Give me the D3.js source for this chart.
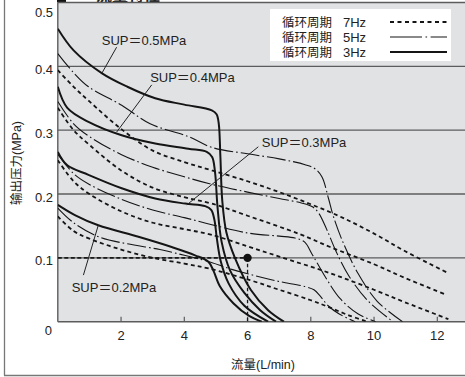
<!DOCTYPE html>
<html>
<head>
<meta charset="utf-8">
<script src="https://cdn.jsdelivr.net/npm/d3@7"></script>
<style>
  body { margin: 0; background: #fff; }
  svg { display: block; }
  text { font-family: "Liberation Sans", Arial, "Noto Sans CJK SC", sans-serif; fill: #222; }
</style>
</head>
<body>
<div id="chart"></div>
<script>
// ticks
const xTicks = [2, 4, 6, 8, 10, 12];
const yTicks = [0.1, 0.2, 0.3, 0.4, 0.5];
const yTickLabels = ["0.1", "0.2", "0.3", "0.4", "0.5"];

// legend
const freqs = ["7Hz", "5Hz", "3Hz"];
const freqLabel = "循环周期";

// curves: [flow L/min, output pressure MPa]
const sup02_3hz = [[0,0.183],[0.54,0.167],[1.28,0.151],[2.55,0.133],[3.6,0.117],[4.34,0.104],[4.76,0.094],[4.92,0.08],[5.13,0.055],[5.55,0.029],[6.05,0.009],[6.45,0]];
const sup03_3hz = [[0,0.266],[0.3,0.245],[0.97,0.23],[2.02,0.209],[3.08,0.193],[4.03,0.185],[4.66,0.181],[4.85,0.175],[4.95,0.16],[5.03,0.13],[5.15,0.095],[5.4,0.06],[5.9,0.025],[6.65,0]];
const sup04_3hz = [[0,0.368],[0.3,0.335],[0.97,0.313],[2.02,0.292],[3.08,0.279],[4.13,0.271],[4.71,0.266],[4.88,0.258],[4.97,0.235],[5.05,0.18],[5.18,0.125],[5.45,0.08],[5.9,0.045],[6.4,0.018],[6.9,0]];
const sup05_3hz = [[0,0.459],[0.5,0.425],[1.4,0.389],[2.2,0.368],[3.08,0.35],[4,0.34],[4.87,0.331],[5.02,0.325],[5.09,0.31],[5.14,0.26],[5.2,0.19],[5.33,0.14],[5.6,0.1],[6.1,0.05],[6.65,0.018],[7.15,0]];

const sup02_5hz = [[0,0.178],[0.5,0.155],[1.34,0.132],[2.2,0.122],[3.23,0.113],[4,0.104],[4.71,0.095],[5.5,0.082],[6.24,0.072],[7,0.063],[7.82,0.055],[8.1,0.05],[8.3,0.04],[8.55,0.025],[8.9,0.012],[9.4,0]];
const sup03_5hz = [[0,0.262],[0.5,0.232],[1,0.215],[2,0.192],[3,0.175],[4,0.163],[4.87,0.152],[6,0.139],[7,0.134],[7.5,0.131],[7.8,0.125],[8.05,0.105],[8.46,0.07],[8.93,0.036],[9.5,0.012],[10.05,0]];
const sup04_5hz = [[0,0.345],[0.5,0.31],[1,0.29],[2,0.262],[3,0.242],[4,0.227],[4.8,0.216],[6,0.203],[7,0.193],[7.7,0.186],[8.05,0.18],[8.25,0.17],[8.5,0.145],[8.8,0.11],[9.2,0.072],[9.8,0.033],[10.6,0]];
const sup05_5hz = [[0,0.42],[0.5,0.39],[0.97,0.368],[2.02,0.339],[2.92,0.31],[4.13,0.29],[4.87,0.273],[6,0.263],[7,0.255],[7.82,0.246],[8.12,0.24],[8.35,0.227],[8.56,0.193],[8.72,0.164],[9.03,0.123],[9.5,0.075],[10.1,0.032],[10.9,0]];

const sup02_7hz = [[0,0.165],[0.5,0.142],[1,0.13],[2,0.113],[3,0.1],[4,0.091],[4.8,0.083],[6.08,0.065],[7,0.05],[7.98,0.034],[8.61,0.022],[9.2,0.01],[9.8,0]];
const sup03_7hz = [[0,0.253],[0.5,0.22],[1,0.2],[2,0.173],[3,0.155],[4,0.145],[4.87,0.136],[6,0.118],[7,0.102],[8.61,0.076],[10,0.05],[11,0.03],[12.35,0.004]];
const sup04_7hz = [[0,0.335],[0.5,0.3],[1,0.277],[2,0.237],[3,0.21],[4,0.195],[4.87,0.185],[6,0.166],[7.66,0.137],[8.61,0.117],[10,0.09],[11,0.068],[12.3,0.042]];
const sup05_7hz = [[0,0.394],[0.5,0.368],[1,0.345],[2,0.302],[3,0.268],[4,0.25],[4.87,0.237],[6,0.22],[7,0.203],[8,0.184],[9,0.163],[10,0.138],[11,0.11],[12.35,0.076]];

// SUP annotations: label text, text anchor point, leader start, leader end (data units)
const supLabels = ["SUP＝0.5MPa", "SUP＝0.4MPa", "SUP＝0.3MPa", "SUP＝0.2MPa"];
const supTextAt = [[1.39, 0.433], [2.92, 0.376], [6.45, 0.274], [0.44, 0.047]];
const supLeaderFrom = [[1.86, 0.43], [2.97, 0.371], [6.34, 0.274], [0.81, 0.073]];
const supLeaderTo = [[1.39, 0.389], [1.86, 0.297], [4.08, 0.183], [1.28, 0.151]];

// rated point
const ratedPoint = [6, 0.1];

const W = 465, H = 377;
const svg = d3.select("#chart").append("svg").attr("width", W).attr("height", H);

const x = d3.scaleLinear().domain([0, 12]).range([57.8, 437.3]);
const y = d3.scaleLinear().domain([0, 0.5]).range([321.7, 2.5]);
const plotL = x(0), plotR = W, plotT = y(0.5), plotB = y(0);
const gridColor = "#5c5c5c";

// outer frame
svg.append("line").attr("x1", 4.5).attr("x2", 4.5).attr("y1", 0).attr("y2", 375.5)
  .attr("stroke", "#777").attr("stroke-width", 1.3);
svg.append("line").attr("x1", 4).attr("x2", W).attr("y1", 375.5).attr("y2", 375.5)
  .attr("stroke", "#777").attr("stroke-width", 1.3);

// clipped title (cut by the top edge, as in the source)
svg.append("rect").attr("x", 57).attr("y", -10).attr("width", 9).attr("height", 12.5).attr("fill", "#111");
svg.append("text").attr("x", 96).attr("y", 1).attr("font-size", 16).attr("font-weight", "bold")
  .text("流量特性");

// plot background
svg.append("rect").attr("x", plotL).attr("y", plotT).attr("width", plotR - plotL).attr("height", plotB - plotT)
  .attr("fill", "#e1e2e4");

svg.append("defs").append("clipPath").attr("id", "plotClip")
  .append("rect").attr("x", plotL).attr("y", plotT).attr("width", plotR - plotL).attr("height", plotB - plotT);

// grid lines
svg.append("g").selectAll("line").data(yTicks).join("line")
  .attr("x1", plotL).attr("x2", plotR)
  .attr("y1", d => y(d)).attr("y2", d => y(d))
  .attr("stroke", gridColor).attr("stroke-width", 1.3);

// axes
svg.append("line").attr("x1", plotL).attr("x2", plotL).attr("y1", plotT).attr("y2", plotB)
  .attr("stroke", gridColor).attr("stroke-width", 1.4);
svg.append("line").attr("x1", plotL).attr("x2", plotR).attr("y1", plotB).attr("y2", plotB)
  .attr("stroke", gridColor).attr("stroke-width", 1.4);

svg.append("g").selectAll("line").data(xTicks).join("line")
  .attr("x1", d => x(d)).attr("x2", d => x(d))
  .attr("y1", plotB).attr("y2", plotB - 5)
  .attr("stroke", gridColor).attr("stroke-width", 1.2);

// tick labels
svg.append("g").selectAll("text").data(xTicks).join("text")
  .attr("x", d => x(d)).attr("y", 340)
  .attr("text-anchor", "middle").attr("font-size", 13).text(d => d);
svg.append("text").attr("x", 52).attr("y", 335).attr("text-anchor", "end").attr("font-size", 13).text("0");
svg.append("g").selectAll("text").data(yTicks).join("text")
  .attr("x", 53)
  .attr("y", d => d === 0.5 ? y(d) + 14 : y(d) + 7.5)
  .attr("text-anchor", "end").attr("font-size", 13)
  .text((d, i) => yTickLabels[i]);

// axis titles
svg.append("text").attr("x", 263).attr("y", 369).attr("text-anchor", "middle").attr("font-size", 12.5)
  .text("流量(L/min)");
svg.append("text").attr("transform", "translate(21,163) rotate(-90)").attr("text-anchor", "middle")
  .attr("font-size", 12.5).text("输出压力(MPa)");

// rated point guides
const curves = svg.append("g").attr("clip-path", "url(#plotClip)");
curves.append("line").attr("x1", x(0)).attr("x2", x(ratedPoint[0]))
  .attr("y1", y(ratedPoint[1])).attr("y2", y(ratedPoint[1]))
  .attr("stroke", "#1a1a1a").attr("stroke-width", 1.6).attr("stroke-dasharray", "4,2.5");
curves.append("line").attr("x1", x(ratedPoint[0])).attr("x2", x(ratedPoint[0]))
  .attr("y1", y(ratedPoint[1])).attr("y2", y(0))
  .attr("stroke", "#1a1a1a").attr("stroke-width", 1.3).attr("stroke-dasharray", "3.5,2.5");

// curves
const line = d3.line().x(d => x(d[0])).y(d => y(d[1])).curve(d3.curveCatmullRom.alpha(0.5));
const styles = {
  "7Hz": { w: 1.8, dash: "4,3.2" },
  "5Hz": { w: 1.1, dash: "19,3,1.6,3" },
  "3Hz": { w: 2.0, dash: null }
};
const series = [
  { f: "7Hz", d: sup02_7hz }, { f: "7Hz", d: sup03_7hz }, { f: "7Hz", d: sup04_7hz }, { f: "7Hz", d: sup05_7hz },
  { f: "5Hz", d: sup02_5hz }, { f: "5Hz", d: sup03_5hz }, { f: "5Hz", d: sup04_5hz }, { f: "5Hz", d: sup05_5hz },
  { f: "3Hz", d: sup02_3hz }, { f: "3Hz", d: sup03_3hz }, { f: "3Hz", d: sup04_3hz }, { f: "3Hz", d: sup05_3hz }
];
curves.selectAll("path.curve").data(series).join("path")
  .attr("class", "curve")
  .attr("d", s => line(s.d))
  .attr("fill", "none")
  .attr("stroke", "#151515")
  .attr("stroke-width", s => styles[s.f].w)
  .attr("stroke-dasharray", s => styles[s.f].dash);

curves.append("circle").attr("cx", x(ratedPoint[0])).attr("cy", y(ratedPoint[1])).attr("r", 4.2).attr("fill", "#111");

// SUP annotations
const ann = svg.append("g");
ann.selectAll("line").data(supLabels).join("line")
  .attr("x1", (d, i) => x(supLeaderFrom[i][0])).attr("y1", (d, i) => y(supLeaderFrom[i][1]))
  .attr("x2", (d, i) => x(supLeaderTo[i][0])).attr("y2", (d, i) => y(supLeaderTo[i][1]))
  .attr("stroke", "#222").attr("stroke-width", 1);
ann.selectAll("text").data(supLabels).join("text")
  .attr("x", (d, i) => x(supTextAt[i][0])).attr("y", (d, i) => y(supTextAt[i][1]))
  .attr("font-size", 13).text(d => d);

// legend
const lg = svg.append("g");
lg.append("rect").attr("x", 270).attr("y", 9).attr("width", 181).attr("height", 52).attr("fill", "#fff");
const legendDash = { "7Hz": "4,3.5", "5Hz": "32,3.5,1.6,3.5", "3Hz": null };
freqs.forEach((f, i) => {
  const cy = 22 + i * 15;
  lg.append("text").attr("x", 282).attr("y", cy + 4.5).attr("font-size", 12.5).text(freqLabel);
  lg.append("text").attr("x", 343).attr("y", cy + 4.5).attr("font-size", 13).text(f);
  lg.append("line").attr("x1", 390).attr("x2", 447).attr("y1", cy).attr("y2", cy)
    .attr("stroke", "#151515").attr("stroke-width", styles[f].w)
    .attr("stroke-dasharray", legendDash[f]);
});
</script>
</body>
</html>
